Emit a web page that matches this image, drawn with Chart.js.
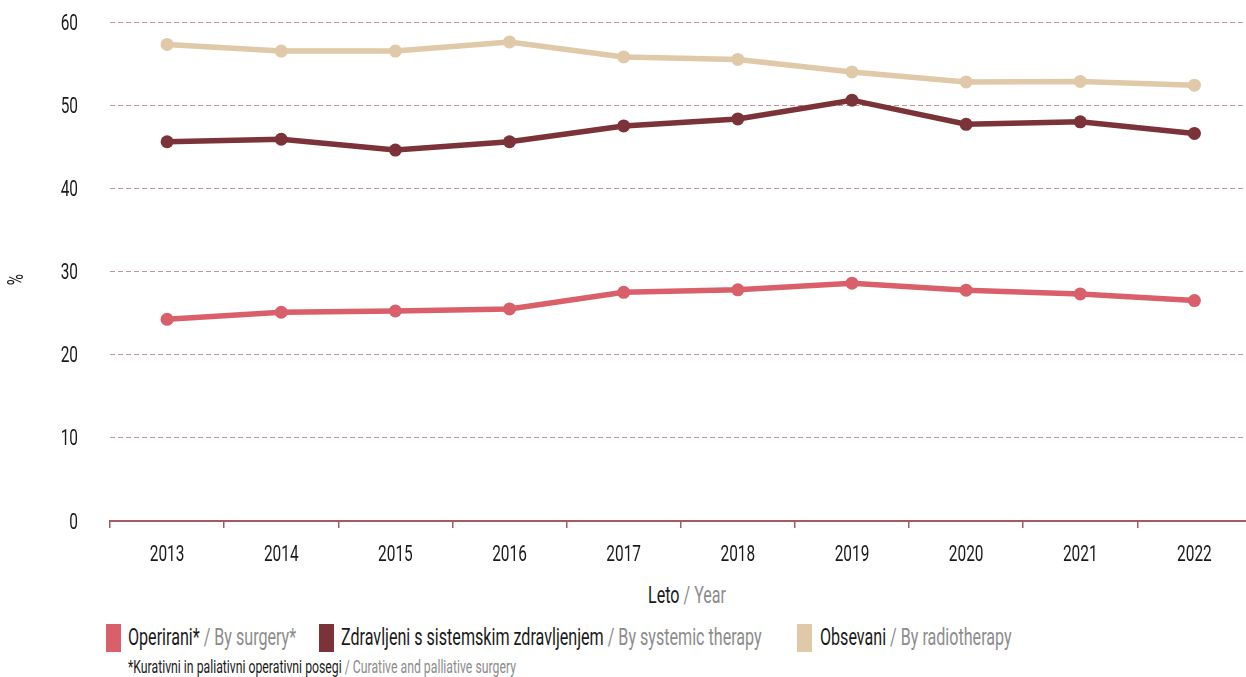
<!DOCTYPE html>
<html>
<head>
<meta charset="utf-8">
<script src="https://cdn.jsdelivr.net/npm/chart.js@4.4.1/dist/chart.umd.min.js"></script>
<style>
  body { margin: 0; background: #fff; overflow: hidden; width: 1246px; height: 677px; position: relative;
         font-family: Roboto, sans-serif; color: #1a1a1a; }
  #wrap { position: absolute; left: 0; top: 0; width: 1258px; height: 570px; }
  .gray { color: #8c8c8c; }
  .txt { position: absolute; white-space: nowrap; transform: scaleX(0.7); transform-origin: 0 0; font-size: 23px; line-height: 29px; }
  #xtitle { top: 581px; left: 648px; }
  .sq { position: absolute; top: 624px; width: 15px; height: 28px; }
  .leg { top: 623px; }
  #note { left: 128px; top: 657px; font-size: 17.5px; line-height: 20px; }
</style>
</head>
<body>
<div id="wrap"><canvas id="chart" width="1258" height="570"></canvas></div>
<div id="xtitle" class="txt">Leto <span class="gray">/ Year</span></div>
<div class="sq" style="left:106px;background:#d9606b"></div>
<div class="txt leg" style="left:128px">Operirani* <span class="gray">/ By surgery*</span></div>
<div class="sq" style="left:319px;background:#7b3339"></div>
<div class="txt leg" style="left:341px">Zdravljeni s sistemskim zdravljenjem <span class="gray">/ By systemic therapy</span></div>
<div class="sq" style="left:797px;background:#dfc9a8"></div>
<div class="txt leg" style="left:820px">Obsevani <span class="gray">/ By radiotherapy</span></div>
<div id="note" class="txt">*Kurativni in paliativni operativni posegi <span class="gray">/ Curative and palliative surgery</span></div>
<script>
const years = ["2013", "2014", "2015", "2016", "2017", "2018", "2019", "2020", "2021", "2022"];
const surgery = [24.25, 25.1, 25.25, 25.5, 27.5, 27.8, 28.6, 27.75, 27.3, 26.5];
const systemic = [45.6, 45.9, 44.6, 45.6, 47.5, 48.35, 50.6, 47.7, 48.0, 46.6];
const radiotherapy = [57.3, 56.5, 56.5, 57.6, 55.8, 55.5, 54.0, 52.8, 52.85, 52.4];
const yTicks = [0, 10, 20, 30, 40, 50, 60];

const font = "22px Roboto, sans-serif";
const squeeze = 0.7;

function series(data, color) {
  return {
    data: data,
    borderColor: color,
    backgroundColor: color,
    borderWidth: 5.5,
    pointRadius: 6.5,
    pointBorderWidth: 0,
    pointHoverRadius: 6.5,
    tension: 0
  };
}

function drawText(ctx, text, x, y, align, rot) {
  ctx.save();
  ctx.translate(x, y);
  if (rot) ctx.rotate(rot);
  ctx.scale(squeeze, 1);
  ctx.textAlign = align;
  ctx.fillText(text, 0, 0);
  ctx.restore();
}

// tick labels drawn narrow, like the condensed face of the original
const labels = {
  id: "labels",
  afterDraw(chart) {
    const ctx = chart.ctx;
    const xs = chart.scales.x, ys = chart.scales.y;
    ctx.save();
    ctx.fillStyle = "#1a1a1a";
    ctx.font = font;
    ctx.textBaseline = "middle";
    xs.ticks.forEach((t, i) => drawText(ctx, xs.getLabelForValue(t.value), xs.getPixelForTick(i), 555, "center"));
    ys.ticks.forEach(t => drawText(ctx, String(t.value), 78, ys.getPixelForValue(t.value) + 2, "right"));
    drawText(ctx, "%", 17, (ys.top + ys.bottom) / 2 + 8, "center", -Math.PI / 2);
    ctx.restore();
  }
};

new Chart(document.getElementById("chart"), {
  type: "line",
  data: {
    labels: years,
    datasets: [
      series(radiotherapy, "#dfc9a8"),
      series(systemic, "#7b3339"),
      series(surgery, "#d9606b")
    ]
  },
  plugins: [labels],
  options: {
    responsive: false,
    animation: false,
    events: [],
    layout: { padding: { top: 22, left: 0, right: 0, bottom: 0 } },
    plugins: { legend: { display: false }, tooltip: { enabled: false } },
    scales: {
      x: {
        offset: true,
        grid: { display: true, drawOnChartArea: false, offset: true, tickLength: 7, color: "#a35a60", lineWidth: 1.5 },
        border: { display: true, color: "#a35a60", width: 2 },
        ticks: { display: false },
        afterFit: function (scale) { scale.height = 49; }
      },
      y: {
        min: 0,
        max: 60,
        afterBuildTicks: function (scale) { scale.ticks = yTicks.map(v => ({ value: v })); },
        grid: {
          color: c => (c.tick && c.tick.value === 0 ? "rgba(0,0,0,0)" : "#bf9599"),
          lineWidth: 1,
          drawTicks: false
        },
        border: { display: false, dash: [5, 3] },
        ticks: { display: false },
        afterFit: function (scale) { scale.width = 110; }
      }
    }
  }
});
</script>
</body>
</html>
